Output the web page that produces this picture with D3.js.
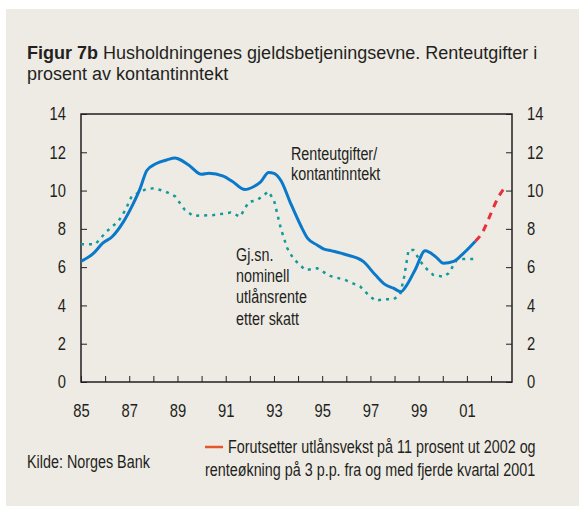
<!DOCTYPE html>
<html>
<head>
<meta charset="utf-8">
<script src="https://cdn.jsdelivr.net/npm/d3@7"></script>
<style>
  html, body { margin: 0; padding: 0; background: #fff; }
  svg { display: block; }
</style>
</head>
<body>
<svg id="chart" width="579" height="506"></svg>
<script>
// values (year, percent)
var debtYears = [1985.0, 1985.5, 1985.9, 1986.3, 1986.75, 1987.1, 1987.45, 1987.73, 1988.1, 1988.55, 1988.9, 1989.05,
  1989.45, 1990.0, 1990.3, 1990.9, 1991.25, 1991.8, 1992.15, 1992.45, 1992.78, 1993.0, 1993.3, 1993.67, 1994.1,
  1994.4, 1994.8, 1995.05, 1995.4, 1996.0, 1996.7, 1997.2, 1997.6, 1997.95, 1998.27, 1998.5, 1998.85, 1999.27,
  1999.7, 2000.03, 2000.45, 2000.8, 2001.35];
var debtValues = [6.3, 6.7, 7.25, 7.6, 8.35, 9.15, 10.1, 11.05, 11.4, 11.6, 11.7, 11.65,
  11.35, 10.85, 10.9, 10.75, 10.5, 10.05, 10.2, 10.45, 10.95, 10.9, 10.5, 9.4, 8.2,
  7.5, 7.15, 6.95, 6.85, 6.65, 6.3, 5.6, 5.1, 4.9, 4.72, 5.05, 5.85, 6.85,
  6.55, 6.2, 6.3, 6.65, 7.35];

var forecastYears = [2001.35, 2001.66, 2001.94, 2002.3, 2002.6];
var forecastValues = [7.35, 7.85, 8.64, 9.65, 10.2];

var rateYears = [1985.0, 1985.6, 1986.05, 1986.55, 1986.85, 1987.1, 1987.7, 1988.05, 1988.5, 1988.9, 1989.3, 1989.65,
  1990.5, 1991.2, 1991.6, 1991.95, 1992.3, 1992.77, 1993.0, 1993.3, 1993.55, 1993.8, 1994.3, 1994.8, 1995.33,
  1995.95, 1996.58, 1996.92, 1997.2, 1997.55, 1997.96, 1998.23, 1998.4, 1998.58, 1998.78, 1999.2, 1999.6,
  2000.03, 2000.24, 2000.58, 2000.8, 2001.27];
var rateValues = [7.2, 7.2, 7.85, 8.4, 9.0, 9.7, 10.08, 10.12, 9.95, 9.7, 9.0, 8.68,
  8.72, 8.85, 8.64, 9.4, 9.5, 9.95, 9.5, 7.95, 7.0, 6.45, 5.85, 5.94, 5.54,
  5.33, 4.98, 4.55, 4.25, 4.32, 4.32, 4.55, 5.5, 6.9, 6.9, 6.06, 5.6,
  5.5, 5.68, 6.38, 6.43, 6.43];

var yTicks = [0, 2, 4, 6, 8, 10, 12, 14];
var xTicks = d3.range(1985, 2003);

var titleBold = "Figur 7b";
var titleLine1 = " Husholdningenes gjeldsbetjeningsevne. Renteutgifter i";
var titleLine2 = "prosent av kontantinntekt";
var debtLabel = ["Renteutgifter/", "kontantinntekt"];
var rateLabel = ["Gj.sn.", "nominell", "utlånsrente", "etter skatt"];
var sourceText = "Kilde: Norges Bank";
var noteText = ["Forutsetter utlånsvekst på 11 prosent ut 2002 og", "renteøkning på 3 p.p. fra og med fjerde kvartal 2001"];

// narrow font check (fallback: squeeze the regular face)
function hasFont(name) {
  var c = document.createElement("canvas").getContext("2d");
  c.font = "20px monospace";
  var a = c.measureText("abcdefghijklmnopqrs").width;
  c.font = "20px '" + name + "', monospace";
  return c.measureText("abcdefghijklmnopqrs").width !== a;
}
var hasNarrow = hasFont("Liberation Sans Narrow");
var narrowFam = hasNarrow ? "'Liberation Sans Narrow', 'Liberation Sans', sans-serif" : "'Liberation Sans', Arial, sans-serif";
var squeeze = hasNarrow ? 1 : 0.82;
var ink = "#231f20";

var svg = d3.select("#chart");
svg.append("rect").attr("x", 6).attr("y", 9).attr("width", 573).attr("height", 497).attr("fill", "#eeebe5");

var plotLeft = 81, plotRight = 512, plotTop = 114, plotBottom = 382;
var x = d3.scaleLinear().domain([1985, 2002.87]).range([plotLeft, plotRight]);
var y = d3.scaleLinear().domain([0, 14]).range([plotBottom, plotTop]);

function narrow(parent, px, py, str, size, anchor) {
  var g = parent.append("g").attr("transform", "translate(" + px + "," + py + ") scale(" + squeeze + ",1)");
  return g.append("text")
    .attr("text-anchor", anchor || "start")
    .style("font-family", narrowFam)
    .style("font-size", size + "px")
    .attr("fill", ink)
    .text(str);
}

// title
var t1 = svg.append("text").attr("x", 27).attr("y", 59)
  .style("font-family", "'Liberation Sans', Arial, sans-serif").style("font-size", "18px").attr("fill", ink);
t1.append("tspan").style("font-weight", "bold").text(titleBold);
t1.append("tspan").text(titleLine1);
svg.append("text").attr("x", 27).attr("y", 80)
  .style("font-family", "'Liberation Sans', Arial, sans-serif").style("font-size", "18px").attr("fill", ink)
  .text(titleLine2);

// axes
function styleAxis(g) {
  g.select(".domain").remove();
  g.selectAll(".tick line").attr("stroke", ink).attr("stroke-width", 1);
  g.selectAll(".tick text")
    .style("font-family", narrowFam).style("font-size", "18px").attr("fill", ink)
    .attr("transform", "scale(" + squeeze + ",1)")
    .attr("x", function () { return +d3.select(this).attr("x") / squeeze; });
}
var gl = svg.append("g").attr("transform", "translate(" + plotLeft + ",0)")
  .call(d3.axisLeft(y).tickValues(yTicks).tickSizeInner(-6).tickSizeOuter(0).tickPadding(15));
styleAxis(gl);
var gr = svg.append("g").attr("transform", "translate(" + plotRight + ",0)")
  .call(d3.axisRight(y).tickValues(yTicks).tickSizeInner(-6).tickSizeOuter(0).tickPadding(15));
styleAxis(gr);
var gb = svg.append("g").attr("transform", "translate(0," + plotBottom + ")")
  .call(d3.axisBottom(x).tickValues(xTicks).tickSizeInner(-6).tickSizeOuter(0).tickPadding(22)
    .tickFormat(function (d) { return d % 2 === 1 ? String(d).slice(2) : ""; }));
styleAxis(gb);

svg.append("rect").attr("x", plotLeft).attr("y", plotTop).attr("width", plotRight - plotLeft).attr("height", plotBottom - plotTop)
  .attr("fill", "none").attr("stroke", ink).attr("stroke-width", 1.5);

// lines
function pts(xs, vs) { return xs.map(function (d, i) { return [d, vs[i]]; }); }
var line = d3.line().x(function (d) { return x(d[0]); }).y(function (d) { return y(d[1]); }).curve(d3.curveMonotoneX);
var lin = d3.line().x(function (d) { return x(d[0]); }).y(function (d) { return y(d[1]); });

svg.append("path").datum(pts(rateYears, rateValues)).attr("d", lin)
  .attr("fill", "none").attr("stroke", "#12999b").attr("stroke-width", 2.5).attr("stroke-dasharray", "3,5");
svg.append("path").datum(pts(forecastYears, forecastValues)).attr("d", line)
  .attr("fill", "none").attr("stroke", "#e8303a").attr("stroke-width", 3).attr("stroke-dasharray", "7,6");
svg.append("path").datum(pts(debtYears, debtValues)).attr("d", line)
  .attr("fill", "none").attr("stroke", "#0a79c9").attr("stroke-width", 3).attr("stroke-linejoin", "round");

// annotations
debtLabel.forEach(function (s, i) { narrow(svg, 291, 160 + i * 20, s, 17.5); });
rateLabel.forEach(function (s, i) { narrow(svg, 236, 261 + i * 21.2, s, 17.5); });

// footer
narrow(svg, 27, 468, sourceText, 17.5);
svg.append("line").attr("x1", 205).attr("x2", 223).attr("y1", 447).attr("y2", 447)
  .attr("stroke", "#e8542b").attr("stroke-width", 2.5);
narrow(svg, 228, 453, noteText[0], 17.5);
narrow(svg, 205, 476, noteText[1], 17.5);
</script>
</body>
</html>
